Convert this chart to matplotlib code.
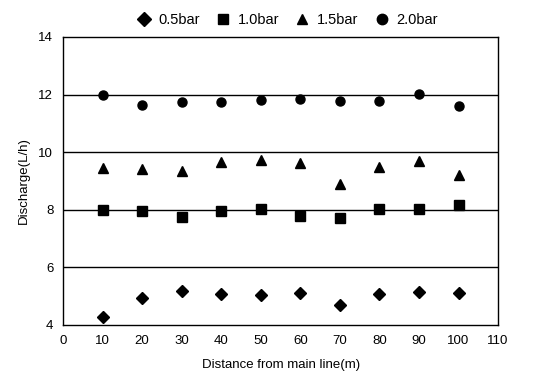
import matplotlib.pyplot as plt

plt.rcParams['font.family'] = ['Liberation Sans', 'DejaVu Sans']

# lateral distance along the line (m)
distance = [10, 20, 30, 40, 50, 60, 70, 80, 90, 100]

# emitter discharge (L/h) at each operating pressure
q_05 = [4.27, 4.95, 5.19, 5.07, 5.05, 5.12, 4.70, 5.09, 5.14, 5.10]
q_10 = [8.00, 7.94, 7.75, 7.95, 8.03, 7.80, 7.70, 8.02, 8.03, 8.15]
q_15 = [9.44, 9.42, 9.36, 9.66, 9.74, 9.61, 8.88, 9.49, 9.70, 9.22]
q_20 = [12.0, 11.65, 11.73, 11.73, 11.82, 11.86, 11.78, 11.79, 12.03, 11.60]

fig = plt.figure(figsize=(5.48, 3.85), dpi=100)
ax = fig.add_axes([0.115, 0.156, 0.794, 0.748])

for y in [6, 8, 10, 12]:
    ax.axhline(y, color='black', lw=1.0, zorder=1)

ax.plot(distance, q_05, 'D', color='black', ms=6, ls='none', label='0.5bar')
ax.plot(distance, q_10, 's', color='black', ms=6.5, ls='none', label='1.0bar')
ax.plot(distance, q_15, '^', color='black', ms=6.5, ls='none', label='1.5bar')
ax.plot(distance, q_20, 'o', color='black', ms=6.5, ls='none', label='2.0bar')

ax.set_xlim(0, 110)
ax.set_ylim(4, 14)
ax.set_xticks(range(0, 111, 10))
ax.set_yticks([4, 6, 8, 10, 12, 14])
ax.tick_params(length=0, labelsize=9.5, pad=7)
for s in ax.spines.values():
    s.set_linewidth(1.0)

ax.set_xlabel('Distance from main line(m)', fontsize=9.5, labelpad=9)
ax.set_ylabel('Discharge(L/h)', fontsize=9.5, labelpad=6)

ax.legend(loc='lower center', bbox_to_anchor=(0.515, 1.035), ncol=4, frameon=False,
          fontsize=10.5, handletextpad=0.5, columnspacing=1.1, handlelength=1.0,
          markerscale=1.15, borderaxespad=0.0, borderpad=0.0)

fig.savefig('out.png', dpi=100)
